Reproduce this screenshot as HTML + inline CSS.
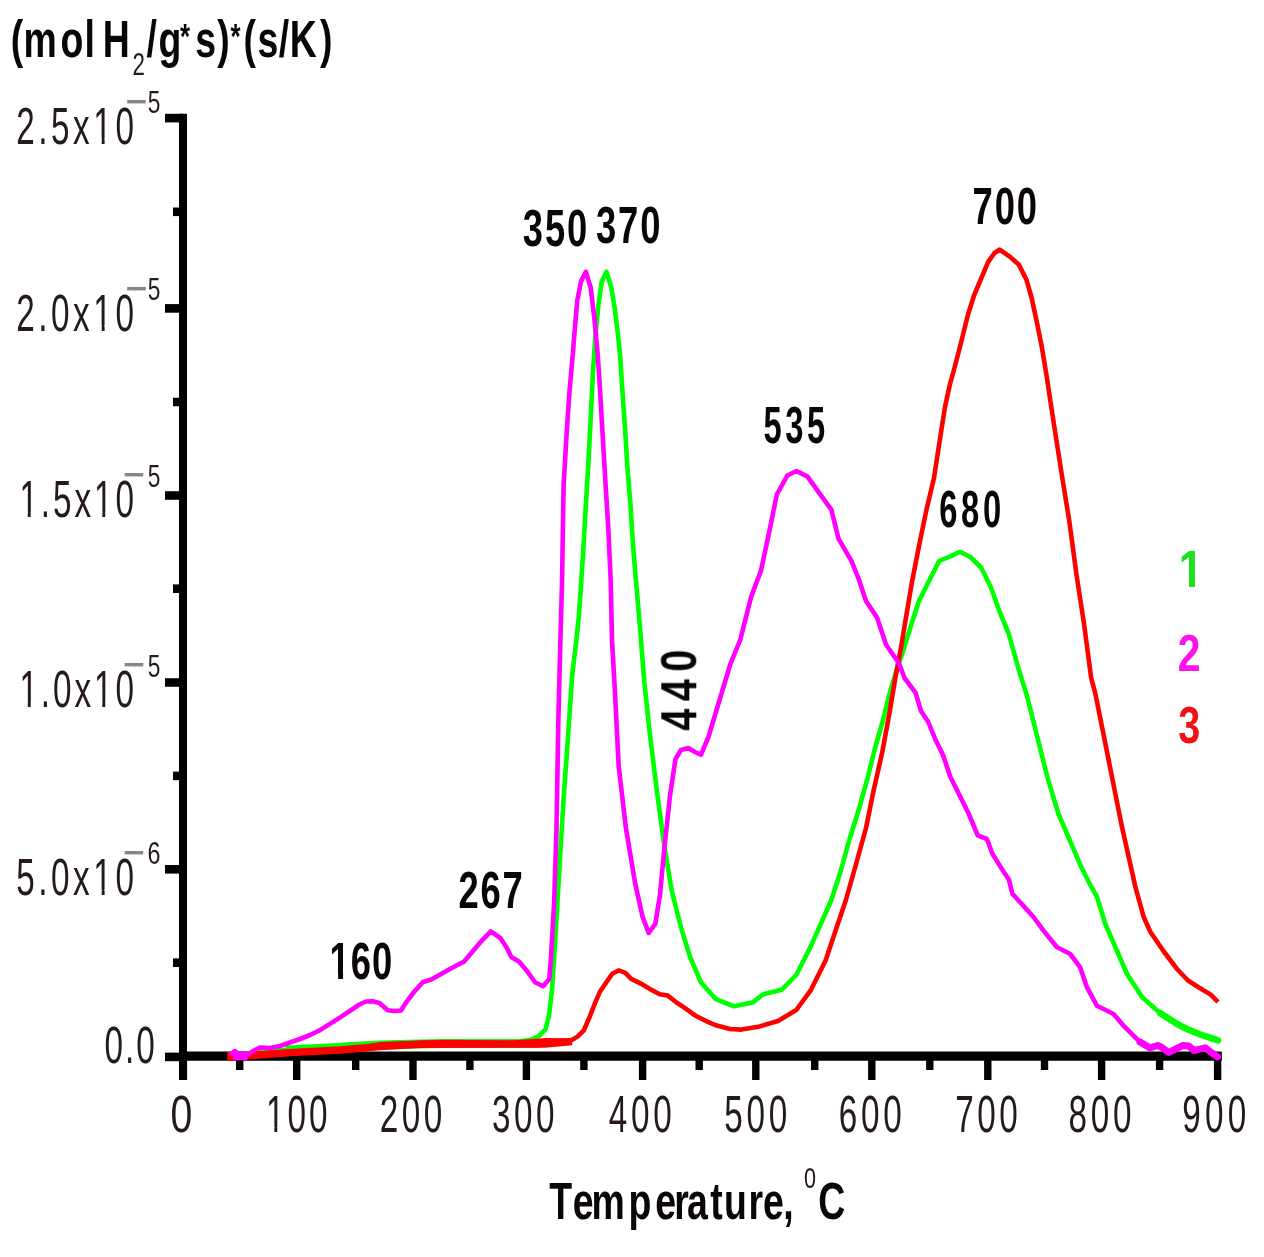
<!DOCTYPE html>
<html><head><meta charset="utf-8"><title>TPR profiles</title>
<style>
html,body{margin:0;padding:0;background:#fff}
svg{display:block}
text{font-kerning:none;font-family:"Liberation Sans",sans-serif;filter:blur(0.55px)}
.b{font-weight:bold;fill:#0a0606}
.r{fill:#241a1a}
</style></head><body>
<svg width="1264" height="1257" viewBox="0 0 1264 1257">
<rect width="1264" height="1257" fill="#fff"/>

<g stroke="#000" stroke-width="8" fill="none" stroke-linecap="butt">
<line x1="183" y1="113.8" x2="183" y2="1080"/>
<line x1="183" y1="1056.2" x2="1221.8" y2="1056.2" stroke-width="9.2"/>
<line x1="165" y1="1056.9" x2="183" y2="1056.9" stroke-width="8.6"/>
<line x1="165" y1="869.3" x2="183" y2="869.3" stroke-width="8.6"/>
<line x1="165" y1="682.5" x2="183" y2="682.5" stroke-width="8.6"/>
<line x1="165" y1="495.5" x2="183" y2="495.5" stroke-width="8.6"/>
<line x1="165" y1="308.4" x2="183" y2="308.4" stroke-width="8.6"/>
<line x1="165" y1="118.1" x2="183" y2="118.1" stroke-width="8.6"/>
<line x1="173" y1="962.7" x2="183" y2="962.7" stroke-width="8.6"/>
<line x1="173" y1="775.9" x2="183" y2="775.9" stroke-width="8.6"/>
<line x1="173" y1="588.7" x2="183" y2="588.7" stroke-width="8.6"/>
<line x1="173" y1="402.0" x2="183" y2="402.0" stroke-width="8.6"/>
<line x1="173" y1="211.8" x2="183" y2="211.8" stroke-width="8.6"/>
<line x1="183.4" y1="1056" x2="183.4" y2="1080" stroke-width="7.4"/>
<line x1="296.7" y1="1056" x2="296.7" y2="1080" stroke-width="7.4"/>
<line x1="413.0" y1="1056" x2="413.0" y2="1080" stroke-width="7.4"/>
<line x1="526.4" y1="1056" x2="526.4" y2="1080" stroke-width="7.4"/>
<line x1="642.6" y1="1056" x2="642.6" y2="1080" stroke-width="7.4"/>
<line x1="755.8" y1="1056" x2="755.8" y2="1080" stroke-width="7.4"/>
<line x1="871.8" y1="1056" x2="871.8" y2="1080" stroke-width="7.4"/>
<line x1="987.8" y1="1056" x2="987.8" y2="1080" stroke-width="7.4"/>
<line x1="1101.6" y1="1056" x2="1101.6" y2="1080" stroke-width="7.4"/>
<line x1="1217.6" y1="1056" x2="1217.6" y2="1080" stroke-width="7.4"/>
<line x1="239.7" y1="1056" x2="239.7" y2="1070" stroke-width="7.4"/>
<line x1="355.7" y1="1056" x2="355.7" y2="1070" stroke-width="7.4"/>
<line x1="469.9" y1="1056" x2="469.9" y2="1070" stroke-width="7.4"/>
<line x1="583.9" y1="1056" x2="583.9" y2="1070" stroke-width="7.4"/>
<line x1="699.2" y1="1056" x2="699.2" y2="1070" stroke-width="7.4"/>
<line x1="814.7" y1="1056" x2="814.7" y2="1070" stroke-width="7.4"/>
<line x1="929.8" y1="1056" x2="929.8" y2="1070" stroke-width="7.4"/>
<line x1="1044.5" y1="1056" x2="1044.5" y2="1070" stroke-width="7.4"/>
<line x1="1159.6" y1="1056" x2="1159.6" y2="1070" stroke-width="7.4"/>
</g>
<g fill="none" stroke-width="4.6" stroke-linejoin="round" stroke-linecap="butt">
<polyline stroke="#00ff00" points="229.8,1056.0 260.0,1052.0 293.0,1049.4 352.8,1044.4 400.0,1043.0 445.8,1042.7 512.3,1042.0 530.0,1040.0 538.9,1036.0 545.5,1029.4 549.0,1015.4 552.0,990.0 554.6,949.5 557.0,910.0 560.0,858.0 563.8,795.7 567.5,744.5 572.2,675.0 576.4,640.0 578.9,615.4 581.1,583.6 583.4,548.6 585.9,504.0 588.4,462.7 590.7,418.2 592.9,373.6 595.4,335.4 598.6,303.6 601.8,281.4 606.6,271.8 611.3,287.7 614.5,306.8 617.7,332.3 620.3,357.7 622.5,392.7 625.0,427.7 627.3,465.9 630.4,504.0 633.0,545.4 636.2,583.6 639.0,615.4 641.0,640.0 644.3,682.0 649.8,733.5 657.0,792.0 664.5,847.0 671.8,891.0 681.0,927.5 690.0,956.8 701.0,982.5 715.7,999.0 734.0,1006.3 752.4,1002.6 763.3,994.2 781.6,989.8 796.3,975.0 811.0,945.9 825.6,913.0 831.3,900.0 840.4,872.0 849.6,839.0 858.7,809.8 867.9,776.8 875.2,747.5 882.5,722.0 889.8,692.6 895.3,674.3 902.7,652.4 911.8,623.0 919.0,601.0 930.0,579.0 939.3,560.8 950.3,556.4 960.0,551.7 970.4,557.0 981.4,568.0 990.5,586.5 999.7,612.0 1008.8,634.0 1018.0,667.0 1027.0,696.0 1036.3,733.0 1047.3,776.8 1058.3,813.5 1069.2,839.0 1080.2,864.7 1091.2,886.7 1097.0,897.0 1105.3,924.0 1115.3,947.0 1127.0,974.0 1142.0,997.0 1155.4,1009.0 1166.4,1017.6 1177.5,1024.3 1188.6,1029.8 1199.7,1034.3 1210.7,1037.8 1218.0,1040.4"/>
<polyline stroke="#00ff00" stroke-width="9" points="286,1050 340,1047.5 380,1045 440,1043.6 540,1043.5"/>
<polyline stroke="#ff0000" points="229.8,1056.0 279.7,1052.0 352.8,1048.7 379.4,1044.4 445.8,1042.0 512.3,1042.7 545.5,1040.4 571.0,1040.5 577.5,1036.6 583.8,1030.3 590.0,1016.0 594.9,1003.4 599.6,992.3 606.0,982.8 612.3,973.8 618.6,970.4 625.0,972.6 631.3,978.9 640.8,983.6 650.3,989.2 659.7,994.2 667.7,995.5 675.6,1001.8 685.0,1008.2 696.0,1016.0 705.6,1020.8 716.7,1025.6 730.0,1029.0 741.4,1029.6 759.7,1026.4 778.0,1021.0 796.3,1010.0 811.0,989.8 825.6,960.5 836.6,927.5 845.9,900.0 856.9,861.0 866.0,828.0 873.4,791.5 882.5,751.0 889.8,711.0 895.3,678.0 900.8,648.7 906.3,615.7 911.8,582.8 919.0,546.0 926.5,509.6 934.0,478.0 939.8,440.0 945.0,407.0 950.0,384.0 955.0,366.0 961.5,340.7 967.8,315.3 974.2,295.0 981.8,277.0 988.2,261.8 994.5,253.0 999.6,249.6 1009.8,256.7 1018.7,264.4 1026.4,279.6 1031.5,297.5 1036.5,320.4 1041.6,345.8 1046.7,376.4 1050.5,401.8 1055.6,435.0 1062.0,476.0 1069.2,520.5 1076.6,575.5 1083.9,623.0 1091.2,678.0 1095.3,693.4 1102.0,726.8 1108.6,760.0 1115.3,793.6 1122.0,827.0 1128.7,857.0 1135.4,887.0 1143.7,917.0 1150.4,932.0 1163.8,951.5 1177.0,969.0 1188.0,980.5 1199.7,988.0 1210.7,994.6 1218.0,1002.0"/>
<polyline stroke="#ff0000" stroke-width="7.4" points="227.4,1056.3 255,1055.2 290,1052.6 340,1050 380,1046.6 420,1044.3 545,1044 572,1041.5"/>
<rect x="227.3" y="1051.8" width="8" height="9" fill="#ff0000"/>
<polyline stroke="#00ff00" stroke-linecap="round" stroke-width="6.6" points="1160,1013 1177.5,1024.3 1188.6,1029.8 1199.7,1034.3 1210.7,1037.8 1218,1040.4"/>
<polyline stroke="#ff00ff" points="230.0,1055.0 234.8,1051.0 240.0,1055.0 246.5,1056.0 253.0,1051.0 260.0,1047.5 270.0,1048.0 280.0,1046.0 290.0,1042.5 300.0,1039.0 310.0,1035.0 319.6,1030.4 339.5,1017.8 359.4,1004.5 366.0,1001.5 372.7,1001.2 379.4,1002.9 387.7,1010.2 394.0,1011.0 401.0,1010.5 406.9,1001.3 414.0,992.0 422.7,982.3 432.2,979.1 443.3,972.8 454.4,966.5 463.9,961.7 473.4,950.6 482.8,939.6 490.8,931.4 500.3,938.0 506.6,947.5 511.3,957.0 519.2,961.7 527.2,971.2 535.0,982.3 543.0,986.2 549.3,979.0 550.8,960.0 552.5,931.6 554.2,900.0 556.5,828.7 558.3,722.5 560.4,640.0 562.0,583.6 563.6,485.0 566.8,430.9 569.4,392.7 572.5,357.7 574.8,329.0 577.3,300.4 581.0,281.4 585.9,271.8 590.7,287.7 594.5,319.5 597.7,354.5 600.2,392.7 602.4,430.9 605.0,475.4 608.2,526.3 610.7,580.4 612.0,640.0 615.0,693.2 618.7,766.5 626.0,828.7 635.2,883.6 642.5,916.6 648.7,933.0 655.3,923.9 660.0,894.6 664.5,847.0 670.0,795.7 675.5,759.0 681.0,750.0 688.3,748.0 695.0,752.0 701.0,754.7 708.4,737.0 719.4,700.5 730.4,664.0 740.2,640.0 751.3,596.3 760.9,570.9 770.4,526.3 776.8,494.5 787.3,475.5 796.5,471.0 807.5,476.6 816.6,489.4 831.3,509.6 838.6,538.9 851.4,560.8 858.7,579.0 866.0,601.0 877.0,617.6 886.2,645.0 899.0,663.3 904.5,678.0 915.5,692.6 921.0,711.0 928.3,722.0 935.6,740.0 943.0,754.9 950.3,776.8 959.4,795.0 968.6,813.5 977.7,835.4 986.9,839.0 992.4,853.7 1001.5,868.4 1008.8,879.4 1012.5,894.0 1021.8,904.0 1033.5,917.0 1043.5,930.6 1056.8,947.0 1070.2,954.0 1080.2,967.4 1087.0,987.4 1097.0,1005.8 1113.6,1014.0 1123.7,1025.9 1136.5,1038.7 1144.3,1045.0 1149.8,1047.8 1157.6,1045.5 1162.0,1047.5 1168.7,1052.5 1176.4,1048.6 1183.0,1045.5 1188.6,1046.0 1194.0,1050.5 1199.7,1049.2 1205.2,1047.8 1210.7,1052.0 1217.5,1056.8"/>
<polyline stroke="#ff00ff" stroke-width="9" points="233.2,1055.8 247.5,1055.8"/>
<polyline stroke="#ff00ff" stroke-linecap="round" stroke-width="7" points="1140,1042 1149.8,1047.8 1157.6,1045.5 1162,1047.5 1168.7,1052.5 1176.4,1048.6 1183,1045.5 1188.6,1046 1194,1050.5 1199.7,1049.2 1205.2,1047.8 1210.7,1052 1217.5,1056.8"/>
</g>
<text transform="translate(0,56.8) scale(0.720,1)"><tspan class="b" font-size="52" x="14.8 32.8 84.0 117.3 125.3 142.8" y="0">(mol H</tspan><tspan class="r" font-size="31" x="184.1" y="18.5">2</tspan><tspan class="b" font-size="52" x="203.5 220.3" y="0">/g</tspan><tspan class="b" font-size="36" x="249.9" y="-8.8">*</tspan><tspan class="b" font-size="52" x="271.3 301.9" y="0">s)</tspan><tspan class="b" font-size="36" x="320.0" y="-8.8">*</tspan><tspan class="b" font-size="52" x="338.1 357.8 387.3 402.6 444.5" y="0">(s/K)</tspan></text>
<text class="r" font-size="52" letter-spacing="3.08" transform="translate(104.60,1063.4) scale(0.640,1)">0.0</text>
<text class="r" clip-path="url(#c0)" font-size="52" letter-spacing="5.56" transform="translate(16.20,894.6999999999999) scale(0.640,1)">5.0x10</text>
<text class="b" style="fill:#868686" font-size="31" letter-spacing="0.00" transform="translate(122.98,862.6999999999999) scale(1.195,1)">−</text>
<text class="r" font-size="31.5" letter-spacing="0.00" transform="translate(147.43,864.0999999999999) scale(0.741,1)">6</text>
<text class="r" clip-path="url(#c1)" font-size="52" letter-spacing="4.56" transform="translate(19.40,707.4) scale(0.640,1)">1.0x10</text>
<text class="b" style="fill:#868686" font-size="31" letter-spacing="0.00" transform="translate(122.98,675.4) scale(1.195,1)">−</text>
<text class="r" font-size="31.5" letter-spacing="0.00" transform="translate(147.69,676.8) scale(0.722,1)">5</text>
<text class="r" clip-path="url(#c2)" font-size="52" letter-spacing="4.56" transform="translate(19.40,517.1999999999999) scale(0.640,1)">1.5x10</text>
<text class="b" style="fill:#868686" font-size="31" letter-spacing="0.00" transform="translate(122.98,485.19999999999993) scale(1.195,1)">−</text>
<text class="r" font-size="31.5" letter-spacing="0.00" transform="translate(147.69,486.59999999999997) scale(0.722,1)">5</text>
<text class="r" clip-path="url(#c3)" font-size="52" letter-spacing="5.56" transform="translate(16.20,330.5) scale(0.640,1)">2.0x10</text>
<text class="b" style="fill:#868686" font-size="31" letter-spacing="0.00" transform="translate(125.58,298.5) scale(1.195,1)">−</text>
<text class="r" font-size="31.5" letter-spacing="0.00" transform="translate(147.69,299.90000000000003) scale(0.722,1)">5</text>
<text class="r" clip-path="url(#c4)" font-size="52" letter-spacing="5.56" transform="translate(16.20,143.9) scale(0.640,1)">2.5x10</text>
<text class="b" style="fill:#868686" font-size="31" letter-spacing="0.00" transform="translate(125.58,111.9) scale(1.195,1)">−</text>
<text class="r" font-size="31.5" letter-spacing="0.00" transform="translate(147.69,113.3) scale(0.722,1)">5</text>
<text class="r" font-size="52" letter-spacing="0.00" transform="translate(170.47,1132.2) scale(0.755,1)">0</text>
<text class="r" clip-path="url(#c5)" font-size="52" letter-spacing="4.67" transform="translate(266.00,1132.2) scale(0.640,1)">100</text>
<text class="r" font-size="52" letter-spacing="5.45" transform="translate(379.75,1132.2) scale(0.640,1)">200</text>
<text class="r" font-size="52" letter-spacing="5.45" transform="translate(492.00,1132.2) scale(0.640,1)">300</text>
<text class="r" font-size="52" letter-spacing="5.84" transform="translate(608.85,1132.2) scale(0.640,1)">400</text>
<text class="r" font-size="52" letter-spacing="5.84" transform="translate(724.30,1132.2) scale(0.640,1)">500</text>
<text class="r" font-size="52" letter-spacing="5.84" transform="translate(838.70,1132.2) scale(0.640,1)">600</text>
<text class="r" font-size="52" letter-spacing="5.45" transform="translate(955.25,1132.2) scale(0.640,1)">700</text>
<text class="r" font-size="52" letter-spacing="5.84" transform="translate(1068.50,1132.2) scale(0.640,1)">800</text>
<text class="r" font-size="52" letter-spacing="6.62" transform="translate(1182.30,1132.2) scale(0.640,1)">900</text>
<text transform="translate(0,1219.4) scale(0.720,1)"><tspan class="b" font-size="52" x="763.0 795.6 821.7 872.8 909.9 936.3 954.0 986.6 1005.7 1039.7 1059.7 1087.8 1095.8" y="0">Temperature, </tspan><tspan class="r" font-size="30" x="1116.6" y="-31.1">0</tspan><tspan class="b" font-size="52" x="1136.3" y="0">C</tspan></text>
<text class="b" clip-path="url(#c6)" font-size="52" letter-spacing="1.34" transform="translate(329.60,979.2) scale(0.700,1)">160</text>
<text class="b" font-size="52" letter-spacing="2.48" transform="translate(458.60,907.6) scale(0.700,1)">267</text>
<text class="b" font-size="52" letter-spacing="2.70" transform="translate(522.80,246.4) scale(0.700,1)">350</text>
<text class="b" font-size="52" letter-spacing="2.62" transform="translate(596.00,243.4) scale(0.700,1)">370</text>
<text class="b" font-size="52" letter-spacing="5.51" transform="translate(763.60,442.8) scale(0.630,1)">535</text>
<text class="b" font-size="52" letter-spacing="5.83" transform="translate(939.20,527.2) scale(0.630,1)">680</text>
<text class="b" font-size="52" letter-spacing="2.70" transform="translate(972.50,224.4) scale(0.700,1)">700</text>
<text class="b" font-size="49.5" letter-spacing="9.40" transform="translate(696.3,730.70) rotate(-90) scale(0.800,1)">440</text>
<text class="b" style="fill:#1fe01f" clip-path="url(#c7)" font-size="52" letter-spacing="0.00" transform="translate(1178.85,587) scale(0.839,1)">1</text>
<text class="b" style="fill:#ff10f0" font-size="52" letter-spacing="0.00" transform="translate(1177.81,671.4) scale(0.788,1)">2</text>
<text class="b" style="fill:#f01018" font-size="52" letter-spacing="0.00" transform="translate(1178.33,742.6) scale(0.763,1)">3</text>
<defs><clipPath id="c0"><path clip-rule="evenodd" d="M-3000,-3000H6000V3000H-3000ZM120.26,-5.20H133.57V2.08H120.26ZM138.14,-5.20H149.64V2.08H138.14Z"/></clipPath><clipPath id="c1"><path clip-rule="evenodd" d="M-3000,-3000H6000V3000H-3000ZM-0.26,-5.20H13.05V2.08H-0.26ZM17.63,-5.20H29.12V2.08H17.63ZM116.26,-5.20H129.57V2.08H116.26ZM134.14,-5.20H145.64V2.08H134.14Z"/></clipPath><clipPath id="c2"><path clip-rule="evenodd" d="M-3000,-3000H6000V3000H-3000ZM-0.26,-5.20H13.05V2.08H-0.26ZM17.63,-5.20H29.12V2.08H17.63ZM116.26,-5.20H129.57V2.08H116.26ZM134.14,-5.20H145.64V2.08H134.14Z"/></clipPath><clipPath id="c3"><path clip-rule="evenodd" d="M-3000,-3000H6000V3000H-3000ZM120.26,-5.20H133.57V2.08H120.26ZM138.14,-5.20H149.64V2.08H138.14Z"/></clipPath><clipPath id="c4"><path clip-rule="evenodd" d="M-3000,-3000H6000V3000H-3000ZM120.26,-5.20H133.57V2.08H120.26ZM138.14,-5.20H149.64V2.08H138.14Z"/></clipPath><clipPath id="c5"><path clip-rule="evenodd" d="M-3000,-3000H6000V3000H-3000ZM-0.26,-5.20H13.05V2.08H-0.26ZM17.63,-5.20H29.12V2.08H17.63Z"/></clipPath><clipPath id="c6"><path clip-rule="evenodd" d="M-3000,-3000H6000V3000H-3000ZM-0.78,-7.02H12.12V2.08H-0.78ZM19.24,-7.02H29.90V2.08H19.24Z"/></clipPath><clipPath id="c7"><path clip-rule="evenodd" d="M-3000,-3000H6000V3000H-3000ZM-0.78,-7.02H12.12V2.08H-0.78ZM19.24,-7.02H29.90V2.08H19.24Z"/></clipPath></defs>
</svg></body></html>
